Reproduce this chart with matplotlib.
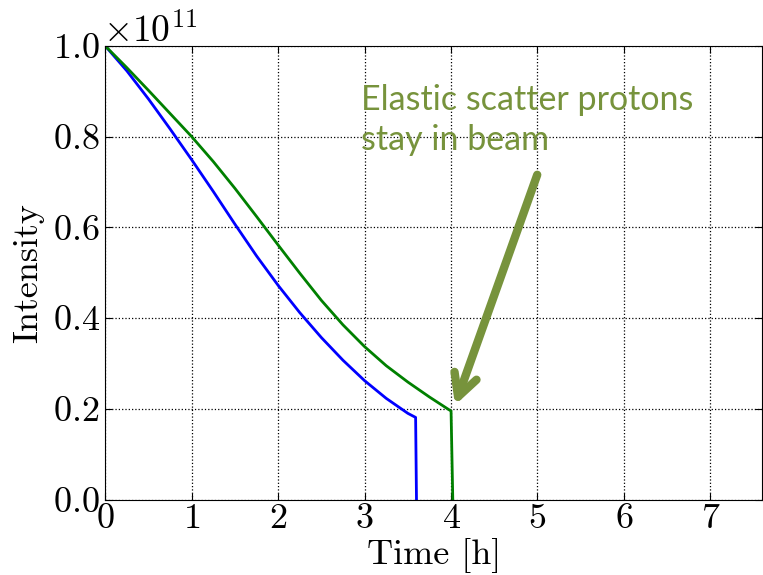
import matplotlib
matplotlib.use('Agg')
import matplotlib.pyplot as plt
from matplotlib.ticker import ScalarFormatter
import numpy as np

# beam intensity vs time
t_blue = [0, 0.25, 0.5, 0.75, 1.0, 1.25, 1.5, 1.75, 2.0, 2.25, 2.5, 2.75, 3.0, 3.25, 3.5, 3.59, 3.6]
i_blue = [1.0, 0.945, 0.883, 0.817, 0.749, 0.679, 0.607, 0.537, 0.472, 0.412, 0.357, 0.307, 0.262, 0.223, 0.19, 0.181, 0.0]

t_green = [0, 0.25, 0.5, 0.75, 1.0, 1.25, 1.5, 1.75, 2.0, 2.25, 2.5, 2.75, 3.0, 3.25, 3.5, 3.75, 4.0, 4.02]
i_green = [1.0, 0.952, 0.902, 0.851, 0.800, 0.745, 0.686, 0.624, 0.561, 0.499, 0.439, 0.385, 0.337, 0.295, 0.259, 0.226, 0.195, 0.0]

scale = 1e11
note = 'Elastic scatter protons\nstay in beam'
note_color = '#77933C'

plt.rcParams['font.family'] = 'serif'
plt.rcParams['font.serif'] = ['cmr10']
plt.rcParams['mathtext.fontset'] = 'cm'
plt.rcParams['axes.formatter.use_mathtext'] = True

fig = plt.figure(figsize=(7.63, 5.75), dpi=100)
ax = fig.add_axes([105.3 / 763, 1 - 499.5 / 575, 1 - 105.3 / 763 - 0.001, (499.5 - 46) / 575])

ax.plot(t_blue, np.array(i_blue) * scale, color='#0000ff', lw=2)
ax.plot(t_green, np.array(i_green) * scale, color='#008000', lw=2)

ax.set_xlim(0, 7.6)
ax.set_ylim(0, 1.0 * scale)
ax.set_xticks(range(8))
ax.set_yticks(np.arange(0, 1.01, 0.2) * scale)

fmt = ScalarFormatter(useMathText=True)
fmt.set_powerlimits((0, 0))
ax.yaxis.set_major_formatter(fmt)
ax.yaxis.get_offset_text().set_fontsize(27)
ax.yaxis.get_offset_text().set_x(-0.003)

ax.grid(True, color='k', linestyle=':', linewidth=0.9)
ax.tick_params(direction='in', top=True, right=True, length=5, labelsize=26, pad=4)
ax.tick_params(axis='x', pad=3)

ax.set_xlabel('Time [h]', fontsize=26, labelpad=2)
ax.set_ylabel('Intensity', fontsize=26, labelpad=6)

ax.text(2.96, 0.771 * scale, note, color=note_color, fontsize=24.5,
        family=['Lato', 'DejaVu Sans'], va='baseline', ha='left', linespacing=1.3)

ax.annotate('', xy=(4.046, 0.208 * scale), xytext=(4.997, 0.716 * scale),
            arrowprops=dict(arrowstyle='->, head_length=0.8, head_width=0.42', lw=6,
                            color=note_color, mutation_scale=20, shrinkA=0, shrinkB=0))

fig.savefig('out.png', dpi=100)
